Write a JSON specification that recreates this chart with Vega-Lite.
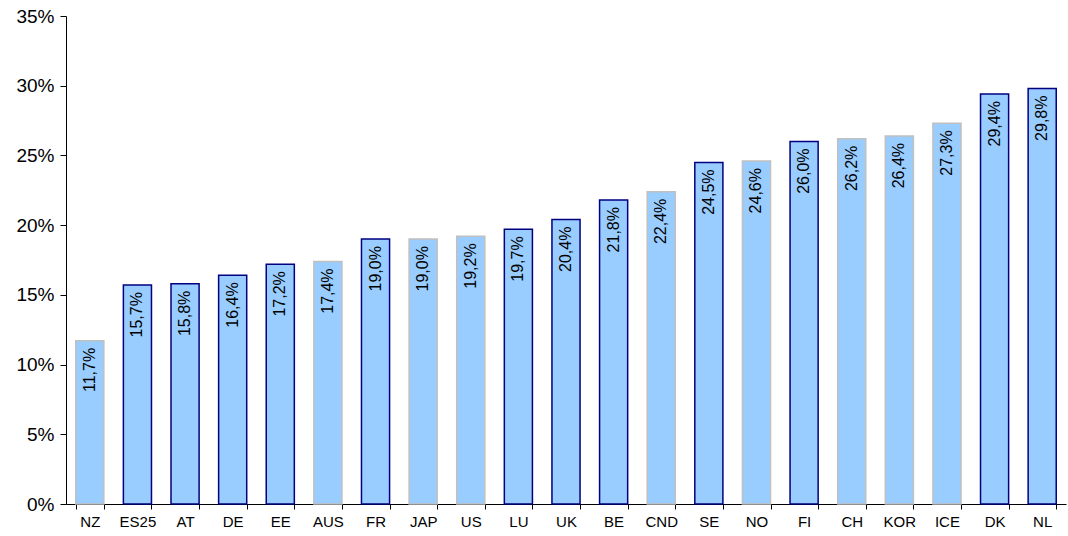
{
  "$schema": "https://vega.github.io/schema/vega-lite/v6.json",
  "width": 1000,
  "height": 488,
  "autosize": {"type": "none"},
  "padding": {"left": 66, "top": 16, "right": 2, "bottom": 32},
  "background": "white",
  "config": {
    "locale": {"number": {"decimal": ",", "thousands": ".", "grouping": [3], "currency": ["", " €"]}},
    "view": {"stroke": null},
    "font": "Liberation Sans",
    "axis": {"grid": false, "domainColor": "#000000", "tickColor": "#000000", "labelColor": "#000000", "labelFont": "Liberation Sans", "title": null}
  },
  "data": {
    "values": [
      {"country": "NZ", "value": 0.117, "group": "non-EU"},
      {"country": "ES25", "value": 0.157, "group": "EU"},
      {"country": "AT", "value": 0.158, "group": "EU"},
      {"country": "DE", "value": 0.164, "group": "EU"},
      {"country": "EE", "value": 0.172, "group": "EU"},
      {"country": "AUS", "value": 0.174, "group": "non-EU"},
      {"country": "FR", "value": 0.190, "group": "EU"},
      {"country": "JAP", "value": 0.190, "group": "non-EU"},
      {"country": "US", "value": 0.192, "group": "non-EU"},
      {"country": "LU", "value": 0.197, "group": "EU"},
      {"country": "UK", "value": 0.204, "group": "EU"},
      {"country": "BE", "value": 0.218, "group": "EU"},
      {"country": "CND", "value": 0.224, "group": "non-EU"},
      {"country": "SE", "value": 0.245, "group": "EU"},
      {"country": "NO", "value": 0.246, "group": "non-EU"},
      {"country": "FI", "value": 0.260, "group": "EU"},
      {"country": "CH", "value": 0.262, "group": "non-EU"},
      {"country": "KOR", "value": 0.264, "group": "non-EU"},
      {"country": "ICE", "value": 0.273, "group": "non-EU"},
      {"country": "DK", "value": 0.294, "group": "EU"},
      {"country": "NL", "value": 0.298, "group": "EU"}
    ]
  },
  "encoding": {
    "x": {
      "field": "country", "type": "nominal", "sort": null,
      "scale": {"paddingInner": 0.41, "paddingOuter": 0.205},
      "axis": {"labelAngle": 0, "labelFontSize": 15, "tickBand": "extent", "tickSize": 5, "labelPadding": 5, "domainColor": "#000000"}
    },
    "y": {
      "field": "value", "type": "quantitative",
      "scale": {"domain": [0, 0.35], "nice": false},
      "axis": {"format": ".0%", "values": [0, 0.05, 0.1, 0.15, 0.2, 0.25, 0.3, 0.35], "labelFontSize": 19, "tickSize": 6, "labelPadding": 6}
    }
  },
  "layer": [
    {
      "mark": {"type": "bar", "fill": "#99CCFF", "strokeWidth": 1.5},
      "encoding": {
        "stroke": {"field": "group", "type": "nominal", "scale": {"domain": ["EU", "non-EU"], "range": ["#000080", "#C0C0C0"]}, "legend": null}
      }
    },
    {
      "mark": {"type": "text", "angle": 270, "align": "right", "baseline": "middle", "dx": -7, "fontSize": 16, "color": "#000000"},
      "encoding": {
        "text": {"field": "value", "type": "quantitative", "format": ".1%"}
      }
    }
  ]
}
